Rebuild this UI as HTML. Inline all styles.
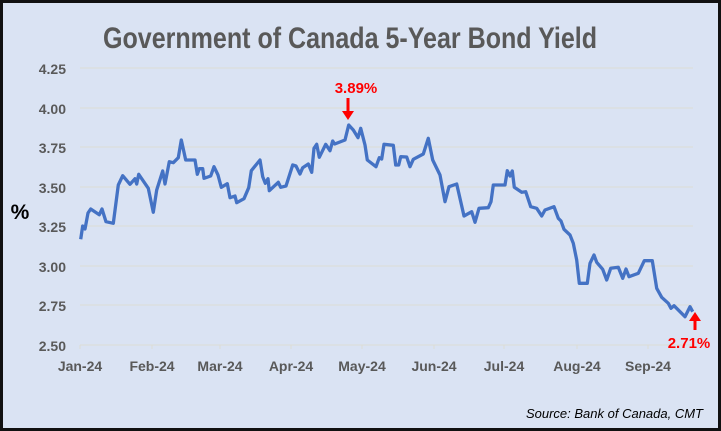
<!DOCTYPE html>
<html><head><meta charset="utf-8"><style>
html,body{margin:0;padding:0;background:#dae3f3;}
svg{display:block;}
</style></head><body>
<svg width="721" height="431" viewBox="0 0 721 431" xmlns="http://www.w3.org/2000/svg">
<rect x="1.5" y="1.5" width="718" height="428" fill="#dae3f3" stroke="#111" stroke-width="3"/>
<text x="350" y="48" text-anchor="middle" font-family="'Liberation Sans Narrow','Liberation Sans',sans-serif" font-weight="bold" font-size="30" fill="#595959" textLength="494" lengthAdjust="spacingAndGlyphs">Government of Canada 5-Year Bond Yield</text>
<g stroke="#dcdcd4" stroke-width="1">
<line x1="80" y1="68" x2="693" y2="68"/>
<line x1="80" y1="108" x2="693" y2="108"/>
<line x1="80" y1="147" x2="693" y2="147"/>
<line x1="80" y1="187" x2="693" y2="187"/>
<line x1="80" y1="226" x2="693" y2="226"/>
<line x1="80" y1="266" x2="693" y2="266"/>
<line x1="80" y1="305" x2="693" y2="305"/>
<line x1="80" y1="345" x2="693" y2="345"/>
<line x1="80" y1="345" x2="80" y2="349"/><line x1="152" y1="345" x2="152" y2="349"/><line x1="220" y1="345" x2="220" y2="349"/><line x1="291" y1="345" x2="291" y2="349"/><line x1="362" y1="345" x2="362" y2="349"/><line x1="434" y1="345" x2="434" y2="349"/><line x1="504" y1="345" x2="504" y2="349"/><line x1="577" y1="345" x2="577" y2="349"/><line x1="648" y1="345" x2="648" y2="349"/>
</g>
<g font-family="'Liberation Sans Narrow','Liberation Sans',sans-serif" font-weight="bold" font-size="14" fill="#595959" text-anchor="end">
<text x="66" y="74">4.25</text><text x="66" y="114">4.00</text><text x="66" y="153">3.75</text><text x="66" y="193">3.50</text><text x="66" y="232">3.25</text><text x="66" y="272">3.00</text><text x="66" y="311">2.75</text><text x="66" y="351">2.50</text>
</g>
<g font-family="'Liberation Sans Narrow','Liberation Sans',sans-serif" font-weight="bold" font-size="14" fill="#595959" text-anchor="middle">
<text x="80" y="371">Jan-24</text><text x="152" y="371">Feb-24</text><text x="220" y="371">Mar-24</text><text x="291" y="371">Apr-24</text><text x="362" y="371">May-24</text><text x="434" y="371">Jun-24</text><text x="504" y="371">Jul-24</text><text x="577" y="371">Aug-24</text><text x="648" y="371">Sep-24</text>
</g>
<text x="20" y="219" text-anchor="middle" font-family="'Liberation Sans',sans-serif" font-weight="bold" font-size="21" fill="#000">%</text>
<polyline fill="none" stroke="#4472c4" stroke-width="3.3" stroke-linejoin="round" points="80.7,239.3 82.7,226 85,229 88,213 90.7,209 99.3,214.7 102,209 106,221.7 113.3,223.3 118.3,185 122.7,175.7 130,184.3 135,178.7 136.7,184 138.7,174.3 148.3,188.3 153.3,212.3 156.7,190 162.7,171 165,184 169.3,161.7 173.3,162.7 178.3,157.7 181.3,140 185.7,160 195,160 197.3,174.3 199.3,168.7 202.7,168.7 204,178.3 210.7,176 214,166.7 218,175 221.3,187.3 227.3,183.7 230,197.7 235,196 236.7,202.7 244,198.7 248.7,187.7 251.3,170.7 260,160 262.7,176.7 265.3,183.3 268,178.7 269.3,190.7 278.3,182.3 280.7,187.3 286,186 292.7,165 296,166 300,174 302.7,167.7 308.3,164 311.7,172.3 314,148.3 316.7,144.3 319.3,157.3 325.7,144.3 330,150.7 332.7,141 334.7,144 345,140 348.7,125 353.3,130 358,137.7 360.7,128.3 365,145 367.3,160 376,166.7 379.3,157.7 381.7,159 384,144.3 393.3,145.3 395.7,165 398.7,165 400.7,156.7 406.7,157 410,166.7 413.3,159.3 423.3,154 428.3,138.3 432.7,160 440,175 445,201.7 449,186.7 456.7,184 464,216 471.7,211.7 475,222.3 479,208.3 488.3,207.7 491,201.7 493.3,185 505,185 507.3,170.7 510,176 512.3,171 514.3,187.3 521.7,192.3 525.7,191.7 530.7,206.7 536.7,208.3 541.7,216 545,210 554,206.7 558.3,218.3 561,221 564,229.3 570,235 573.3,243.3 576.7,260 579.3,283.3 587.3,283.3 590,263.3 594,255 596.7,262.3 602.7,269.3 606.7,280 610.7,268.3 618.3,267.3 622.7,278.3 626,269 629,276.7 638.3,273.3 644.3,260.7 652.3,260.7 656.7,288.3 661.7,297.3 668.3,303.3 671,308.3 674,305.7 685,316.7 690,306.7 692.7,311.7"/>
<g font-family="'Liberation Sans',sans-serif" font-weight="bold" font-size="15" fill="#ff0000">
<text x="356" y="93" text-anchor="middle">3.89%</text>
<text x="689" y="348" text-anchor="middle">2.71%</text>
</g>
<line x1="348" y1="98" x2="348" y2="112" stroke="#ff0000" stroke-width="3"/>
<polygon points="342,111 354,111 348,120" fill="#ff0000"/>
<line x1="695" y1="330" x2="695" y2="320" stroke="#ff0000" stroke-width="3"/>
<polygon points="689,321 701,321 695,312" fill="#ff0000"/>
<text x="703" y="418" text-anchor="end" font-family="'Liberation Sans',sans-serif" font-style="italic" font-size="13" fill="#000">Source: Bank of Canada, CMT</text>
</svg>
</body></html>
